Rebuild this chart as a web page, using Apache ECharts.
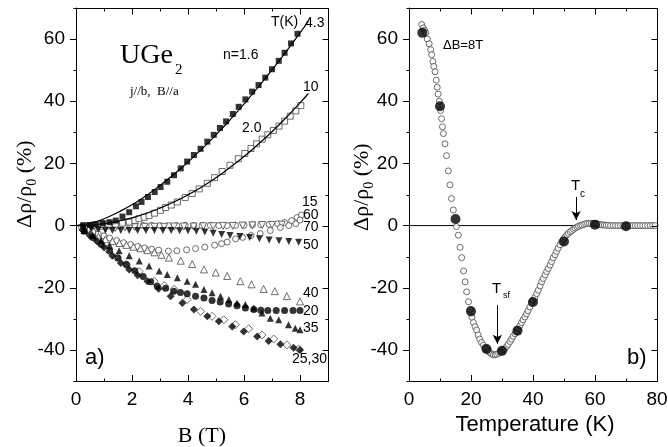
<!DOCTYPE html>
<html>
<head>
<meta charset="utf-8">
<script src="https://cdn.jsdelivr.net/npm/echarts@6/dist/echarts.min.js"></script>
<style>
html, body { margin: 0; padding: 0; background: #fff; }
#chart { width: 668px; height: 447px; }
</style>
</head>
<body>
<div id="chart"></div>
<script>
// ---------- panel a): Δρ/ρ0 (%) versus field B (T), one list per temperature ----------
const t4_3 = [[0.25,0.0],[0.5,0.2],[0.7,0.4],[0.95,0.8],[1.2,1.1],[1.42,1.6],[1.66,2.9],[1.9,4.3],[2.14,6.2],[2.34,7.6],[2.57,9.2],[2.81,10.8],[3.02,12.4],[3.26,14.1],[3.5,16.2],[3.74,18.4],[3.97,20.6],[4.21,22.7],[4.45,24.7],[4.69,27.0],[4.92,29.2],[5.14,31.4],[5.36,33.5],[5.6,35.9],[5.81,38.2],[6.05,40.6],[6.29,43.1],[6.52,45.2],[6.76,47.6],[7.0,50.3],[7.24,53.0],[7.45,55.6],[7.68,58.6],[7.91,61.7]];
const t10 = [[0.3,0.0],[0.6,0.1],[0.9,0.3],[1.15,0.4],[1.42,0.5],[1.66,0.8],[1.9,1.1],[2.1,1.6],[2.25,2.2],[2.43,2.7],[2.61,3.2],[2.8,4.0],[3.02,4.9],[3.2,5.8],[3.4,6.6],[3.62,7.6],[3.9,9.0],[4.15,10.3],[4.4,11.8],[4.69,13.6],[4.95,15.4],[5.22,17.4],[5.5,19.4],[5.8,21.5],[6.03,23.2],[6.25,24.8],[6.45,26.3],[6.65,27.8],[6.85,29.2],[7.05,30.6],[7.25,32.0],[7.45,33.6],[7.65,35.2],[7.85,36.9],[8.03,38.6]];
const t15 = [[0.3,0.0],[0.6,-0.2],[0.9,-0.3],[1.2,-0.2],[1.5,-0.1],[1.8,0.0],[2.1,0.0],[2.4,0.0],[2.7,0.1],[3.0,0.0],[3.3,0.0],[3.6,0.0],[3.9,0.1],[4.2,0.0],[4.5,0.0],[4.8,0.1],[5.1,0.0],[5.4,0.0],[5.7,0.1],[6.0,0.1],[6.3,0.2],[6.6,0.3],[6.9,0.4],[7.2,0.6],[7.45,1.0],[7.7,1.6],[7.9,2.6],[8.05,3.4]];
const t60 = [[0.2,-0.6],[0.4,-1.3],[0.6,-2.0],[0.8,-2.7],[1.0,-3.3],[1.2,-4.0],[1.45,-4.8],[1.7,-5.5],[1.95,-6.1],[2.2,-6.7],[2.45,-7.2],[2.7,-7.6],[2.95,-7.9],[3.3,-8.2],[3.6,-8.1],[3.95,-7.8],[4.27,-7.4],[4.6,-6.9],[4.95,-6.3],[5.2,-5.8],[5.4,-5.3],[5.7,-4.3],[5.95,-3.8],[6.25,-3.2],[6.58,-2.6],[6.94,-1.6],[7.3,-0.6],[7.6,0.0],[7.85,0.6],[8.0,1.8]];
const t70 = [[0.35,-0.5],[0.7,-0.8],[1.05,-0.9],[1.4,-0.8],[1.75,-0.6],[2.1,-0.5],[2.45,-0.4],[2.8,-0.4],[3.15,-0.4],[3.5,-0.3],[3.85,-0.3],[4.2,-0.3],[4.55,-0.2],[4.9,-0.2],[5.25,-0.1],[5.6,-0.1],[5.95,0.0],[6.3,0.1],[6.65,0.2],[7.0,0.2],[7.35,0.3]];
const t50 = [[0.3,-0.6],[0.55,-1.0],[0.8,-1.3],[1.05,-1.5],[1.3,-1.6],[1.6,-1.6],[1.9,-1.6],[2.2,-1.6],[2.5,-1.6],[2.8,-1.6],[3.1,-1.6],[3.4,-1.6],[3.7,-1.7],[4.0,-1.7],[4.3,-1.8],[4.6,-2.1],[4.9,-2.5],[5.2,-2.9],[5.5,-3.2],[5.85,-3.5],[6.2,-3.8],[6.55,-4.2],[6.9,-4.6],[7.25,-4.9],[7.6,-5.1],[7.95,-5.4]];
const t40 = [[0.3,-1.4],[0.55,-2.6],[0.8,-3.6],[1.05,-4.4],[1.3,-5.0],[1.55,-5.6],[1.8,-6.2],[2.05,-6.8],[2.3,-7.3],[2.55,-7.9],[2.8,-8.6],[3.05,-9.4],[3.32,-10.3],[3.74,-11.3],[4.15,-12.4],[4.57,-14.1],[4.99,-15.1],[5.4,-16.2],[5.87,-17.9],[6.27,-18.9],[6.7,-20.4],[7.1,-21.1],[7.53,-22.7],[8.0,-24.4]];
const t35 = [[0.3,-1.6],[0.6,-3.2],[0.9,-4.8],[1.2,-6.4],[1.54,-8.1],[1.9,-9.7],[2.26,-11.4],[2.61,-13.0],[2.97,-14.6],[3.26,-15.7],[3.62,-16.8],[3.97,-17.9],[4.27,-18.9],[4.57,-20.6],[4.86,-21.6],[5.16,-22.7],[5.46,-23.8],[5.75,-24.9],[6.05,-25.4],[6.35,-26.5],[6.64,-28.1],[6.94,-29.8],[7.24,-30.3],[7.59,-31.9],[7.83,-33.0],[8.0,-33.5]];
const t20 = [[0.3,-1.8],[0.6,-3.8],[0.9,-6.0],[1.2,-8.2],[1.5,-10.4],[1.8,-12.5],[2.1,-14.5],[2.4,-16.4],[2.67,-18.1],[2.9,-19.5],[3.2,-20.2],[3.49,-21.1],[3.73,-21.5],[3.97,-21.9],[4.27,-22.7],[4.57,-23.3],[4.86,-24.1],[5.15,-24.6],[5.45,-25.2],[5.75,-25.8],[6.05,-26.5],[6.35,-27.0],[6.6,-27.2],[6.85,-27.3],[7.15,-27.3],[7.45,-27.3],[7.75,-27.3],[8.0,-27.3]];
const t25 = [[0.25,-1.5],[0.5,-3.2],[0.75,-5.0],[1.0,-7.0],[1.3,-9.7],[1.6,-12.0],[1.9,-14.1],[2.2,-16.0],[2.55,-17.9],[2.95,-20.3],[3.38,-22.7],[3.8,-24.9],[4.21,-27.0],[4.69,-29.2],[5.1,-30.8],[5.58,-32.5],[5.99,-34.1],[6.47,-35.7],[6.88,-37.1],[7.3,-38.2],[7.77,-39.3],[8.0,-40.0]];
const t30 = [[0.25,-1.4],[0.5,-3.0],[0.8,-5.2],[1.1,-7.5],[1.45,-10.2],[1.8,-12.6],[2.25,-14.8],[2.79,-17.9],[3.15,-19.3],[3.5,-20.5],[3.97,-23.8],[4.45,-27.6],[4.86,-29.2],[5.28,-30.3],[5.69,-31.9],[6.17,-33.2],[6.64,-35.2],[7.06,-36.5],[7.53,-38.4],[7.95,-39.7]];
// power-law fits drawn through the 4.3 K (n = 1.6) and 10 K (n = 2.0) curves
const fit4_3 = [[0,0],[0.5,0.7],[1,2.2],[1.5,4.3],[2,6.7],[2.5,9.6],[3,12.9],[3.5,16.5],[4,20.4],[4.5,24.7],[5,29.2],[5.5,34.0],[6,39.1],[6.5,44.5],[7,50.1],[7.5,55.9],[8,62.0],[8.3,65.8]];
const fit10 = [[0,0],[0.5,0.15],[1,0.6],[1.5,1.4],[2,2.5],[2.5,3.9],[3,5.6],[3.5,7.6],[4,9.9],[4.5,12.5],[5,15.4],[5.5,18.7],[6,22.2],[6.5,26.1],[7,30.2],[7.5,34.7],[8,39.5],[8.3,42.5]];

// ---------- panel b): Δρ/ρ0 (%) at ΔB = 8 T versus temperature (K) ----------
const sweep8T = [[4.1,64.7],[4.6,63.6],[5.1,62.8],[5.4,62.0],[5.9,60.0],[6.5,58.5],[7.0,56.6],[7.3,55.0],[7.7,52.8],[8.0,51.2],[8.4,49.5],[8.8,46.8],[9.1,44.5],[9.4,42.3],[9.8,40.0],[10.2,37.0],[10.5,34.4],[10.8,31.8],[11.1,29.6],[11.6,26.3],[12.1,22.5],[12.7,17.6],[13.2,13.1],[13.7,8.7],[14.3,5.0],[15.3,-0.3],[15.9,-3.1],[16.5,-7.0],[17.0,-10.3],[17.6,-14.6],[18.1,-18.1],[18.6,-21.3],[19.2,-24.5],[19.7,-27.0],[20.3,-29.5],[20.8,-31.2],[21.3,-32.5],[21.8,-33.6],[22.3,-35.2],[22.8,-36.5],[23.4,-37.6],[24.0,-38.5],[24.5,-39.3],[25.0,-39.8],[25.6,-40.4],[26.1,-40.9],[26.7,-41.3],[27.2,-41.6],[27.8,-41.6],[28.3,-41.4],[28.9,-41.1],[29.4,-40.8],[30.0,-40.4],[30.5,-40.0],[31.0,-39.6],[31.5,-38.9],[32.0,-38.2],[32.6,-37.3],[33.1,-36.5],[33.6,-35.6],[34.2,-34.8],[34.7,-34.0],[35.2,-33.2],[35.8,-32.2],[36.3,-31.2],[36.8,-30.3],[37.4,-29.4],[37.9,-28.4],[38.4,-27.4],[39.0,-26.2],[39.5,-25.0],[40.0,-24.0],[40.6,-23.1],[41.2,-21.9],[41.7,-20.8],[42.3,-19.4],[42.8,-18.1],[43.3,-17.0],[43.9,-15.9],[44.4,-14.8],[44.9,-13.8],[45.5,-12.7],[46.0,-11.6],[46.5,-10.4],[47.1,-9.4],[47.6,-8.3],[48.1,-7.3],[48.7,-6.2],[49.2,-5.2],[49.8,-4.4],[50.3,-3.7],[50.9,-3.0],[51.4,-2.5],[52.0,-2.0],[52.5,-1.6],[53.1,-1.2],[53.6,-0.8],[54.2,-0.5],[54.7,-0.2],[55.3,0.0],[55.8,0.2],[56.4,0.4],[57.0,0.6],[57.6,0.7],[58.2,0.7],[58.8,0.7],[59.4,0.6],[60.0,0.6],[60.6,0.5],[61.2,0.4],[61.8,0.3],[62.4,0.2],[63.0,0.2],[63.6,0.1],[64.3,0.1],[65.0,0.0],[65.8,0.0],[66.6,0.0],[67.4,0.0],[68.2,0.0],[69.0,0.0],[69.8,0.0],[70.6,0.0],[71.4,0.0],[72.2,0.0],[73.0,0.0],[73.8,0.0],[74.6,0.0],[75.4,0.0],[76.2,0.0],[77.0,0.0],[77.8,0.0],[78.6,0.0],[79.4,0.0]];
const fromFieldScans = [[4.3,62.0],[10,38.4],[15,2.1],[20,-27.6],[25,-39.7],[30,-40.3],[35,-33.8],[40,-24.6],[50,-5.1],[60,0.3],[70,-0.2]];
const zeroLine = [[0,0],[80,0]];
const tcArrow = [[53.9,9.2],[53.9,1.8]];
const tsfArrow = [[28.5,-25.6],[28.5,-38.0]];

// ---------- axis ranges and tick values ----------
const fieldRange = [0, 9];
const tempRange = [0, 80];
const resRange = [-50, 70];
const fieldMajor = [0,2,4,6,8];
const fieldMinor = [1,3,5,7];
const tempMajor = [0,20,40,60,80];
const tempMinor = [10,30,50,70];
const resMajor = [-40,-20,0,20,40,60];
const resMinor = [-50,-30,-10,10,30,50,70];

const SANS = '"Liberation Sans", Arial, sans-serif';
const SERIF = '"Liberation Serif", "Times New Roman", serif';
const INK = '#000';
const OPEN_EDGE = '#4a4a4a';
const MAJOR_LEN = 6, MINOR_LEN = 3;

// one labelled axis per direction of each panel; it draws the major ticks
function xAxisFor(grid, range, major) {
  return {
    gridIndex: grid, type: 'value', min: range[0], max: range[1], position: 'bottom',
    splitLine: { show: false },
    axisLine: { show: true, onZero: false, lineStyle: { color: INK, width: 1 } },
    axisTick: { show: true, inside: true, length: MAJOR_LEN, customValues: major, lineStyle: { color: INK, width: 1 } },
    axisLabel: { show: true, customValues: major, color: INK, fontSize: 19, fontFamily: SANS, margin: 9 }
  };
}
function yAxisFor(grid, range, major) {
  return {
    gridIndex: grid, type: 'value', min: range[0], max: range[1], position: 'left',
    splitLine: { show: false },
    axisLine: { show: true, onZero: false, lineStyle: { color: INK, width: 1 } },
    axisTick: { show: true, inside: false, length: MAJOR_LEN, customValues: major, lineStyle: { color: INK, width: 1 } },
    axisLabel: { show: true, customValues: major, color: INK, fontSize: 19, fontFamily: SANS, margin: 11 }
  };
}

function markers(data, symbol, size, filled, panel, rotate) {
  return {
    type: 'scatter', data: data, symbol: symbol, symbolSize: size, symbolRotate: rotate || 0,
    xAxisIndex: panel, yAxisIndex: panel, silent: true, z: filled ? 4 : 3,
    itemStyle: filled ? { color: INK } : { color: '#fff', borderColor: OPEN_EDGE, borderWidth: 1 }
  };
}
function curve(data, panel) {
  return {
    type: 'line', data: data, smooth: true, showSymbol: false, silent: true,
    xAxisIndex: panel, yAxisIndex: panel, z: 5,
    lineStyle: { color: INK, width: 1.2 }
  };
}

const series = [
  curve(fit4_3, 0),
  curve(fit10, 0),
  markers(t15, 'circle', 6, false, 0),
  markers(t70, 'triangle', 7, false, 0, 180),
  markers(t60, 'circle', 6, false, 0),
  markers(t40, 'triangle', 7, false, 0),
  markers(t10, 'rect', 6, false, 0),
  markers(t30, 'diamond', 8, false, 0),
  markers(t4_3, 'rect', 6, true, 0),
  markers(t50, 'triangle', 7, true, 0, 180),
  markers(t35, 'triangle', 7, true, 0),
  markers(t20, 'circle', 7, true, 0),
  markers(t25, 'diamond', 8, true, 0),
  {
    type: 'line', data: zeroLine, showSymbol: false, silent: true, xAxisIndex: 1, yAxisIndex: 1, z: 2,
    lineStyle: { color: INK, width: 1 },
    markLine: {
      silent: true, symbol: ['none', 'arrow'], symbolSize: [7, 9], label: { show: false },
      lineStyle: { color: INK, width: 1, type: 'solid' },
      data: [
        [{ coord: tcArrow[0] }, { coord: tcArrow[1] }],
        [{ coord: tsfArrow[0] }, { coord: tsfArrow[1] }]
      ]
    }
  },
  markers(sweep8T, 'circle', 6, false, 1),
  markers(fromFieldScans, 'circle', 10, true, 1)
];

// ---------- text ----------
const measureCtx = document.createElement('canvas').getContext('2d');
function textWidth(s, size, family) {
  measureCtx.font = size + 'px ' + family;
  return measureCtx.measureText(s).width;
}
function label(x, y, s, size, family, align) {
  return {
    type: 'text', x: x, y: y, silent: true, z: 10,
    style: {
      text: s, font: size + 'px ' + family, fill: INK,
      align: align || 'left', verticalAlign: 'middle',
      textAlign: align || 'left', textVerticalAlign: 'middle'
    }
  };
}
// rotated axis title Δρ/ρ0 (%) reading bottom to top, starting at (x, y)
function resistivityTitle(x, y) {
  const big = 22, small = 14;
  const w1 = textWidth('Δρ/ρ', big, SERIF);
  const w2 = textWidth('0', small, SERIF);
  return {
    type: 'group', x: x, y: y, rotation: Math.PI / 2, silent: true,
    children: [
      label(0, 0, 'Δρ/ρ', big, SERIF),
      label(w1, 7, '0', small, SERIF),
      label(w1 + w2, 0, ' (%)', big, SERIF)
    ]
  };
}

const textLabels = [
  resistivityTitle(25, 228),
  resistivityTitle(362, 231),
  label(202, 436, 'B (T)', 22, SERIF, 'center'),
  label(535, 425, 'Temperature (K)', 22, SANS, 'center'),
  // panel a)
  label(120, 56, 'UGe', 28, SERIF),
  label(175, 70, '2', 15, SERIF),
  label(130, 92, 'j//b,  B//a', 13, SERIF),
  label(223, 55, 'n=1.6', 14, SANS),
  label(242, 128, '2.0', 14, SANS),
  label(271, 22, 'T(K)', 14, SANS),
  label(305, 23, '4.3', 14, SANS),
  label(303, 87, '10', 14, SANS),
  label(302, 202, '15', 14, SANS),
  label(303, 215, '60', 14, SANS),
  label(303, 227, '70', 14, SANS),
  label(303, 245, '50', 14, SANS),
  label(303, 293, '40', 14, SANS),
  label(303, 311, '20', 14, SANS),
  label(303, 328, '35', 14, SANS),
  label(292, 359, '25,30', 14, SANS),
  label(85, 358, 'a)', 22, SANS),
  // panel b)
  label(443, 45, 'ΔB=8T', 13, SANS),
  label(571, 186, 'T', 15, SANS),
  label(580, 194, 'c', 10, SANS),
  label(492, 289, 'T', 15, SANS),
  label(503, 296, 'sf', 9, SANS),
  label(627, 358, 'b)', 22, SANS)
];

const chart = echarts.init(document.getElementById('chart'), null, { renderer: 'canvas' });
chart.setOption({
  animation: false,
  backgroundColor: '#fff',
  grid: [
    { left: 76, top: 8, width: 252, height: 373, outerBoundsMode: 'none', containLabel: false },
    { left: 409, top: 8, width: 248, height: 373, outerBoundsMode: 'none', containLabel: false }
  ],
  xAxis: [xAxisFor(0, fieldRange, fieldMajor), xAxisFor(1, tempRange, tempMajor)],
  yAxis: [yAxisFor(0, resRange, resMajor), yAxisFor(1, resRange, resMajor)],
  series: series
});

// Frame box and the remaining tick marks (minor ticks, mirrored ticks on the
// top and right edges), positioned through each panel's own axis scales.
function seg(x1, y1, x2, y2) {
  return { type: 'line', silent: true, z: 20, shape: { x1: x1, y1: y1, x2: x2, y2: y2 }, style: { stroke: INK, lineWidth: 1 } };
}
function frameFor(grid, xr, yr, xMajor, xMinor, yMajor, yMinor) {
  const px = (x, y) => chart.convertToPixel({ gridIndex: grid }, [x, y]);
  const tl = px(xr[0], yr[1]);
  const br = px(xr[1], yr[0]);
  const left = Math.round(tl[0]) + 0.5, top = Math.round(tl[1]) + 0.5;
  const right = Math.round(br[0]) + 0.5, bottom = Math.round(br[1]) + 0.5;
  const out = [{
    type: 'rect', silent: true, z: 20,
    shape: { x: left, y: top, width: right - left, height: bottom - top },
    style: { fill: 'none', stroke: INK, lineWidth: 1 }
  }];
  const colOf = v => Math.round(px(v, yr[0])[0]) + 0.5;
  const rowOf = v => Math.round(px(xr[0], v)[1]) + 0.5;
  xMajor.forEach(v => out.push(seg(colOf(v), top, colOf(v), top + MAJOR_LEN)));
  xMinor.forEach(v => {
    out.push(seg(colOf(v), top, colOf(v), top + MINOR_LEN));
    out.push(seg(colOf(v), bottom, colOf(v), bottom - MINOR_LEN));
  });
  yMajor.forEach(v => out.push(seg(right, rowOf(v), right - MAJOR_LEN, rowOf(v))));
  yMinor.forEach(v => {
    out.push(seg(right, rowOf(v), right - MINOR_LEN, rowOf(v)));
    out.push(seg(left, rowOf(v), left - MINOR_LEN, rowOf(v)));
  });
  return out;
}

chart.setOption({
  graphic: textLabels.concat(
    frameFor(0, fieldRange, resRange, fieldMajor, fieldMinor, resMajor, resMinor),
    frameFor(1, tempRange, resRange, tempMajor, tempMinor, resMajor, resMinor)
  )
});
</script>
</body>
</html>
